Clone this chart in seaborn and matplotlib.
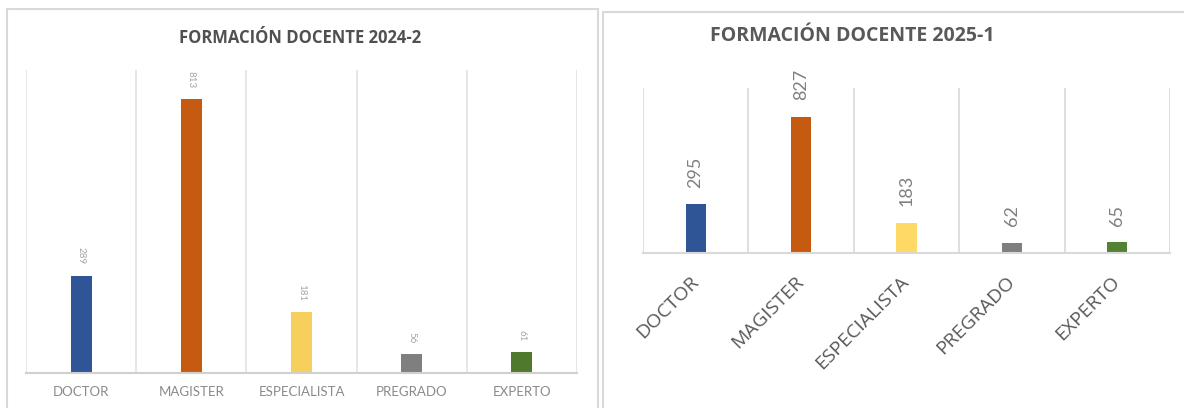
import matplotlib
matplotlib.use("Agg")
import matplotlib.pyplot as plt
from matplotlib.patches import Rectangle
import seaborn as sns
import pandas as pd

categories = ["DOCTOR", "MAGISTER", "ESPECIALISTA", "PREGRADO", "EXPERTO"]
values_2024_2 = [289, 813, 181, 56, 61]
values_2025_1 = [295, 827, 183, 62, 65]
title_left = "FORMACIÓN DOCENTE 2024-2"
title_right = "FORMACIÓN DOCENTE 2025-1"
colors_left = ["#2f5597", "#c55a11", "#f7cf5c", "#7f7f7f", "#4f7a2d"]
colors_right = ["#2f5597", "#c55a11", "#ffd966", "#7f7f7f", "#548235"]

sns.set_theme(style="white")
plt.rcParams["font.family"] = ["Lato", "DejaVu Sans"]

W, H = 1184, 408
fig = plt.figure(figsize=(W / 100, H / 100), dpi=100)
fig.patch.set_facecolor("white")

# panel frames
fig.add_artist(Rectangle((7 / W, -0.05), (598 - 7) / W, 1.05 - 9 / H,
                         transform=fig.transFigure, fill=False,
                         edgecolor="#d9d9d9", lw=1.5))
fig.add_artist(Rectangle((603 / W, -0.05), 0.6, 1.05 - 12 / H,
                         transform=fig.transFigure, fill=False,
                         edgecolor="#d9d9d9", lw=1.5))

df_l = pd.DataFrame({"cat": categories, "val": values_2024_2})
df_r = pd.DataFrame({"cat": categories, "val": values_2025_1})

axl = fig.add_axes([26 / W, 1 - 373 / H, 551 / W, 303 / H])
axr = fig.add_axes([643 / W, 1 - 253 / H, 527 / W, 165 / H])


def style(ax, df, colors, ymax, grid_color, spine_color):
    sns.barplot(data=df, x="cat", y="val", color=colors[0],
                width=0.19, ax=ax, saturation=1)
    for p, col in zip(ax.patches, colors):
        p.set_facecolor(col)
        p.set_edgecolor("none")
    ax.set_xlim(-0.5, len(df) - 0.5)
    ax.set_ylim(0, ymax)
    ax.set_xlabel("")
    ax.set_ylabel("")
    ax.set_yticks([])
    ax.set_xticks([i + 0.5 for i in range(-1, len(df))], minor=True)
    ax.grid(which="minor", axis="x", color=grid_color, lw=1.2)
    ax.tick_params(axis="x", which="both", length=0)
    for s in ["top", "right", "left"]:
        ax.spines[s].set_visible(False)
    ax.spines["bottom"].set_color(spine_color)
    ax.spines["bottom"].set_linewidth(1.5)
    ax.set_facecolor("white")
    ax.set_axisbelow(True)


style(axl, df_l, colors_left, 900, "#e3e3e3", "#d0d0d0")
style(axr, df_r, colors_right, 1000, "#d9d9d9", "#d9d9d9")

# left labels
axl.bar_label(axl.containers[0], labels=[str(v) for v in values_2024_2],
              rotation=270, padding=8, fontsize=7, color="#a6a6a6")
axl.tick_params(axis="x", pad=9)
for t in axl.get_xticklabels():
    t.set_fontsize(9.5)
    t.set_color("#8a8a8a")

# right labels
axr.bar_label(axr.containers[0], labels=[str(v) for v in values_2025_1],
              rotation=90, padding=12, fontsize=13, color="#7f7f7f")
axr.tick_params(axis="x", pad=19)
for t in axr.get_xticklabels():
    t.set_rotation(45)
    t.set_ha("right")
    t.set_va("center")
    t.set_rotation_mode("anchor")
    t.set_fontsize(14)
    t.set_family(["Open Sans", "DejaVu Sans"])
    t.set_color("#595959")

fig.text(300 / W, 1 - 38 / H, title_left, ha="center", va="center",
         fontsize=12, fontweight="bold", color="#505050",
         family=["Open Sans", "DejaVu Sans"])
fig.text(852 / W, 1 - 36 / H, title_right, ha="center", va="center",
         fontsize=14, fontweight="bold", color="#595959",
         family=["Open Sans", "DejaVu Sans"])

fig.savefig("out.png", dpi=100, facecolor="white")
